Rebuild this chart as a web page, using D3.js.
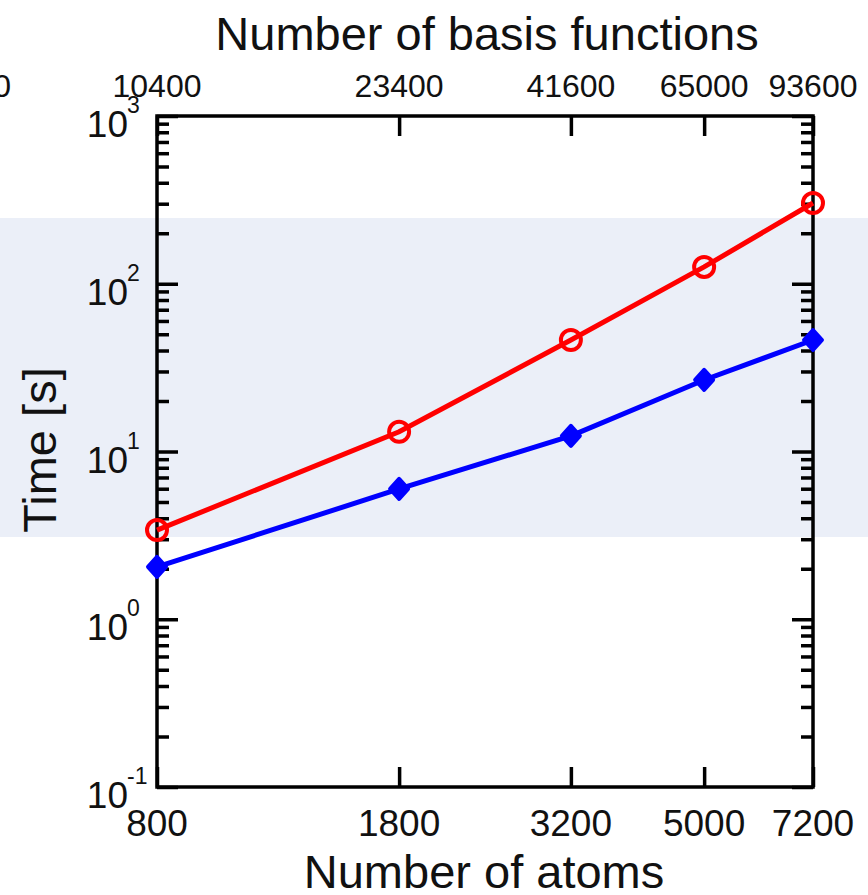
<!DOCTYPE html>
<html>
<head>
<meta charset="utf-8">
<script src="https://cdn.jsdelivr.net/npm/d3@7"></script>
<style>
  html, body { margin: 0; padding: 0; background: #fff; }
  svg { display: block; }
  text { font-family: "Liberation Sans", Arial, Helvetica, sans-serif; fill: #111; }
</style>
</head>
<body>
<div id="chart"></div>
<script>
// data
var atoms = [800, 1800, 3200, 5000, 7200];
var basis = [10400, 23400, 41600, 65000, 93600];
var time_red = [3.40, 13.1, 46.2, 126, 303];
var time_blue = [2.05, 5.98, 12.4, 26.7, 46.2];
var y_major = [0.1, 1, 10, 100, 1000];
var y_exp = ["-1", "0", "1", "2", "3"];

var width = 868, height = 895;
// plot frame (note: "top" is taken by window.top, so prefix)
var p_left = 157, p_right = 813, p_top = 116, p_bottom = 787;

var svg = d3.select("#chart").append("svg")
            .attr("width", width)
            .attr("height", height);

var x = d3.scaleLog().domain([800, 7200]).range([p_left, p_right]);
var y = d3.scaleLog().domain([0.1, 1000]).range([p_bottom, p_top]);

// shaded band behind the plot
svg.append("rect")
   .attr("x", 0).attr("y", 218)
   .attr("width", width).attr("height", 319)
   .attr("fill", "#ebeff8");

// minor ticks 2..9 for each decade
var y_minor = [];
for (var d = 0; d < y_major.length - 1; d++) {
  for (var k = 2; k < 10; k++) y_minor.push(y_major[d] * k);
}

function styleAxis(g) {
  g.select(".domain").remove();
  g.selectAll(".tick line").attr("stroke", "#000").attr("stroke-width", 3.5);
  g.selectAll(".tick text").remove();
}

// left / right y ticks (inward)
svg.append("g").attr("transform", "translate(" + p_left + ",0)")
   .call(d3.axisLeft(y).tickValues(y_major).tickSizeInner(-21).tickSizeOuter(0)).call(styleAxis);
svg.append("g").attr("transform", "translate(" + p_left + ",0)")
   .call(d3.axisLeft(y).tickValues(y_minor).tickSizeInner(-12).tickSizeOuter(0)).call(styleAxis);
svg.append("g").attr("transform", "translate(" + p_right + ",0)")
   .call(d3.axisRight(y).tickValues(y_major).tickSizeInner(-21).tickSizeOuter(0)).call(styleAxis);
svg.append("g").attr("transform", "translate(" + p_right + ",0)")
   .call(d3.axisRight(y).tickValues(y_minor).tickSizeInner(-12).tickSizeOuter(0)).call(styleAxis);

// bottom / top x ticks (inward)
svg.append("g").attr("transform", "translate(0," + p_bottom + ")")
   .call(d3.axisBottom(x).tickValues(atoms).tickSizeInner(-20).tickSizeOuter(0)).call(styleAxis);
svg.append("g").attr("transform", "translate(0," + p_top + ")")
   .call(d3.axisTop(x).tickValues(atoms).tickSizeInner(-20).tickSizeOuter(0)).call(styleAxis);

// frame
svg.append("rect")
   .attr("x", p_left).attr("y", p_top)
   .attr("width", p_right - p_left).attr("height", p_bottom - p_top)
   .attr("fill", "none")
   .attr("stroke", "#000")
   .attr("stroke-width", 3.5);

// y tick labels 10^n
svg.append("g").selectAll("text")
   .data(y_major)
   .enter()
   .append("text")
   .attr("x", 128)
   .attr("y", function(d){ return y(d) + 21; })
   .attr("text-anchor", "end")
   .style("font-size", "37px")
   .text("10");
svg.append("g").selectAll("text")
   .data(y_major)
   .enter()
   .append("text")
   .attr("x", 127)
   .attr("y", function(d){ return y(d) - 3; })
   .style("font-size", "23px")
   .text(function(d,i){ return y_exp[i]; });

// bottom tick labels
svg.append("g").selectAll("text")
   .data(atoms)
   .enter()
   .append("text")
   .attr("x", function(d){ return x(d); })
   .attr("y", 836)
   .attr("text-anchor", "middle")
   .style("font-size", "37px")
   .text(function(d){ return d; });

// top tick labels
svg.append("g").selectAll("text")
   .data(atoms)
   .enter()
   .append("text")
   .attr("x", function(d){ return x(d); })
   .attr("y", 97)
   .attr("text-anchor", "middle")
   .style("font-size", "32px")
   .text(function(d,i){ return basis[i]; });

// clipped label from neighbouring panel
svg.append("text").attr("x", 11).attr("y", 97)
   .attr("text-anchor", "end").style("font-size", "32px").text(basis[4]);

// axis titles
svg.append("text").attr("x", 487).attr("y", 50)
   .attr("text-anchor", "middle").style("font-size", "47px")
   .text("Number of basis functions");
svg.append("text").attr("x", 484).attr("y", 888)
   .attr("text-anchor", "middle").style("font-size", "47px")
   .text("Number of atoms");
svg.append("text")
   .attr("transform", "translate(56,450) rotate(-90)")
   .attr("text-anchor", "middle").style("font-size", "47px")
   .text("Time [s]");

// series
var line_gen = d3.line().x(function(d,i){ return x(atoms[i]); }).y(function(d){ return y(d); });

svg.append("path").datum(time_blue)
   .attr("d", line_gen)
   .attr("fill", "none").attr("stroke", "#0000ff").attr("stroke-width", 5);
svg.append("g").selectAll("path")
   .data(time_blue)
   .enter()
   .append("path")
   .attr("transform", function(d,i){ return "translate(" + x(atoms[i]) + "," + y(d) + ")"; })
   .attr("d", "M0,-10 L9,0 L0,10 L-9,0 Z")
   .attr("fill", "#0000ff").attr("stroke", "#0000ff")
   .attr("stroke-width", 4).attr("stroke-linejoin", "round");

svg.append("path").datum(time_red)
   .attr("d", line_gen)
   .attr("fill", "none").attr("stroke", "#ff0000").attr("stroke-width", 5);
svg.append("g").selectAll("circle")
   .data(time_red)
   .enter()
   .append("circle")
   .attr("cx", function(d,i){ return x(atoms[i]); })
   .attr("cy", function(d){ return y(d); })
   .attr("r", 10)
   .attr("fill", "none").attr("stroke", "#ff0000").attr("stroke-width", 4);
</script>
</body>
</html>
